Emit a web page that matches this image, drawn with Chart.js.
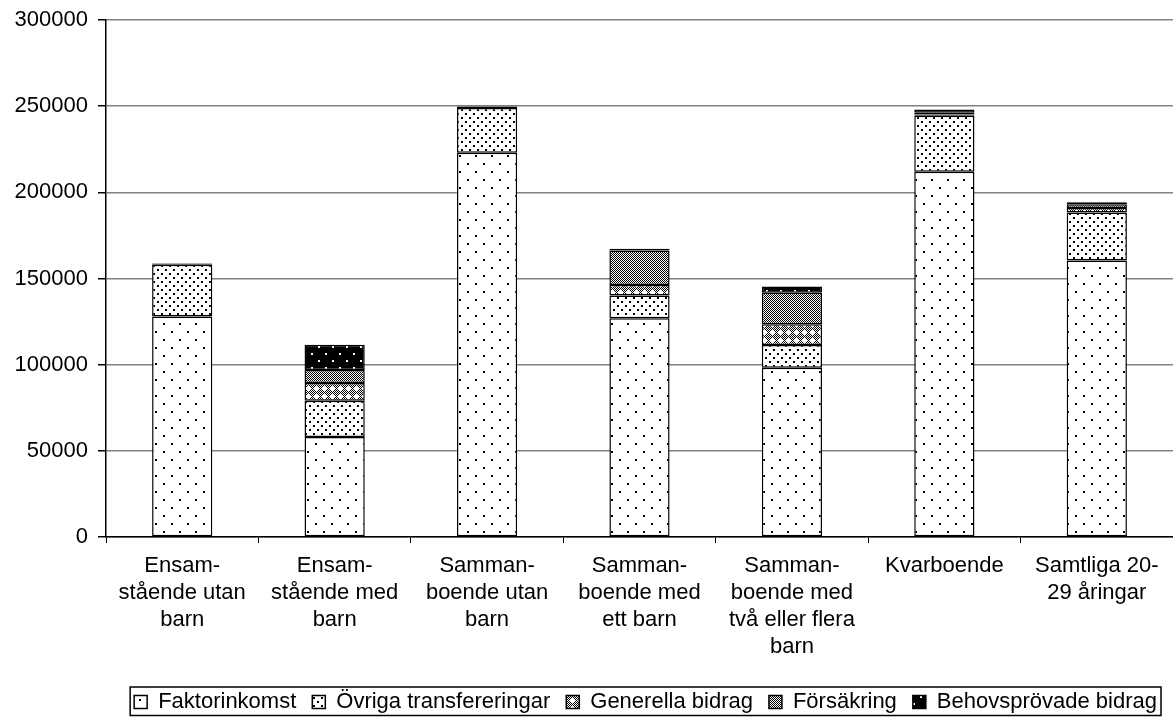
<!DOCTYPE html>
<html>
<head>
<meta charset="utf-8">
<script src="https://cdn.jsdelivr.net/npm/chart.js@4"></script>
<style>
  html, body { margin: 0; padding: 0; background: #fff; }
  #wrap { width: 1173px; height: 717px; }
</style>
</head>
<body>
<div id="wrap"><canvas id="chart"></canvas></div>
<script>
// kategorier (flerradiga etiketter)
const categories = [
  ['Ensam-', 'stående utan', 'barn'],
  ['Ensam-', 'stående med', 'barn'],
  ['Samman-', 'boende utan', 'barn'],
  ['Samman-', 'boende med', 'ett barn'],
  ['Samman-', 'boende med', 'två eller flera', 'barn'],
  ['Kvarboende'],
  ['Samtliga 20-', '29 åringar']
];

// serier (kr)
const faktorinkomst         = [128000,  58000, 223000, 127000,  98200, 212000, 160500];
const ovrigaTransfereringar = [ 30000,  21100,  26000,  13100,  13200,  32500,  27800];
const generellaBidrag       = [   400,  10300,    500,   6200,  12000,    700,   2600];
const forsakring            = [   300,   7500,    300,  20000,  18400,   1000,   2200];
const behovsprovadeBidrag   = [   200,  14700,    200,   1000,   3500,   1900,   1100];

const yTicks = [0, 50000, 100000, 150000, 200000, 250000, 300000];

// mönster
function makePattern(size, draw) {
  const c = document.createElement('canvas');
  c.width = size; c.height = size;
  const g = c.getContext('2d');
  draw(g, size);
  return g.createPattern(c, 'repeat');
}

const patFaktor = makePattern(16, (g) => {
  g.fillStyle = '#fff'; g.fillRect(0, 0, 16, 16);
  g.fillStyle = '#000';
  g.fillRect(3, 3, 2, 2);
  g.fillRect(11, 11, 2, 2);
});

const patOvriga = makePattern(8, (g) => {
  g.fillStyle = '#fff'; g.fillRect(0, 0, 8, 8);
  g.fillStyle = '#000';
  g.fillRect(1, 1, 2, 2);
  g.fillRect(5, 5, 2, 2);
});

const patGenerella = makePattern(8, (g) => {
  g.fillStyle = '#fff'; g.fillRect(0, 0, 8, 8);
  g.fillStyle = '#000';
  for (let y = 0; y < 8; y++) {
    for (let x = 0; x < 8; x++) {
      if ((x + y) % 2 === 0) g.fillRect(x, y, 1, 1);
    }
  }
  g.fillStyle = '#fff';
  g.fillRect(2, 4, 5, 1);
  g.fillRect(4, 2, 1, 5);
  g.fillRect(3, 3, 3, 3);
});

const patForsakring = makePattern(2, (g) => {
  g.fillStyle = '#fff'; g.fillRect(0, 0, 2, 2);
  g.fillStyle = '#000';
  g.fillRect(0, 0, 1, 1);
  g.fillRect(1, 1, 1, 1);
});

const patBehov = makePattern(14, (g) => {
  g.fillStyle = '#000'; g.fillRect(0, 0, 14, 14);
  g.fillStyle = '#fff';
  g.fillRect(3, 3, 2, 2);
  g.fillRect(10, 10, 2, 2);
});

const fontFamily = '"Liberation Sans", Arial, sans-serif';

// ram runt förklaringen
const legendFrame = {
  id: 'legendFrame',
  afterDraw(chart) {
    const boxes = chart.legend && chart.legend.legendHitBoxes;
    if (!boxes || !boxes.length) return;
    let x0 = Infinity, x1 = -Infinity, y0 = Infinity, y1 = -Infinity;
    boxes.forEach(b => {
      x0 = Math.min(x0, b.left); x1 = Math.max(x1, b.left + b.width);
      y0 = Math.min(y0, b.top);  y1 = Math.max(y1, b.top + b.height);
    });
    const ctx = chart.ctx;
    ctx.save();
    ctx.strokeStyle = '#000';
    ctx.lineWidth = 1.5;
    const bottom = Math.min(y1 + 4, chart.height - 1.5);
    ctx.strokeRect(x0 - 4, y0 - 4, x1 - x0 + 8, bottom - (y0 - 4));
    ctx.restore();
  }
};

const ds = (label, data, bg) => ({
  label, data,
  backgroundColor: bg,
  borderColor: '#000',
  borderWidth: 1.5,
  borderSkipped: false,
  barPercentage: 0.395,
  categoryPercentage: 1.0
});

new Chart(document.getElementById('chart').getContext('2d'), {
  type: 'bar',
  data: {
    labels: categories,
    datasets: [
      ds('Faktorinkomst', faktorinkomst, patFaktor),
      ds('Övriga transfereringar', ovrigaTransfereringar, patOvriga),
      ds('Generella bidrag', generellaBidrag, patGenerella),
      ds('Försäkring', forsakring, patForsakring),
      ds('Behovsprövade bidrag', behovsprovadeBidrag, patBehov)
    ]
  },
  options: {
    responsive: true,
    maintainAspectRatio: false,
    animation: false,
    layout: { padding: { top: 20, right: 0, bottom: -6, left: 0 } },
    scales: {
      x: {
        stacked: true,
        grid: { drawOnChartArea: false, tickLength: 6, tickColor: '#000', offset: true },
        border: { color: '#000', width: 1.5 },
        afterFit: (scale) => { scale.height = 138; },
        ticks: {
          color: '#000',
          maxRotation: 0,
          autoSkip: false,
          padding: 9,
          font: { family: fontFamily, size: 22, lineHeight: 1.23 }
        }
      },
      y: {
        stacked: true,
        min: 0,
        max: 300000,
        afterBuildTicks: (axis) => { axis.ticks = yTicks.map(v => ({ value: v })); },
        grid: { color: '#808080', lineWidth: 1.5, tickLength: 8, tickColor: '#000' },
        border: { color: '#000', width: 1.5 },
        afterFit: (scale) => { scale.width = 106; scale.paddingTop = 0; },
        ticks: {
          color: '#000',
          padding: 10,
          callback: (v) => String(v),
          font: { family: fontFamily, size: 22 }
        }
      }
    },
    plugins: {
      legend: {
        position: 'bottom',
        align: 'end',
        labels: {
          color: '#000',
          boxWidth: 13,
          boxHeight: 13,
          padding: 16,
          font: { family: fontFamily, size: 22 }
        }
      },
      tooltip: { enabled: false }
    }
  },
  plugins: [legendFrame]
});
</script>
</body>
</html>
